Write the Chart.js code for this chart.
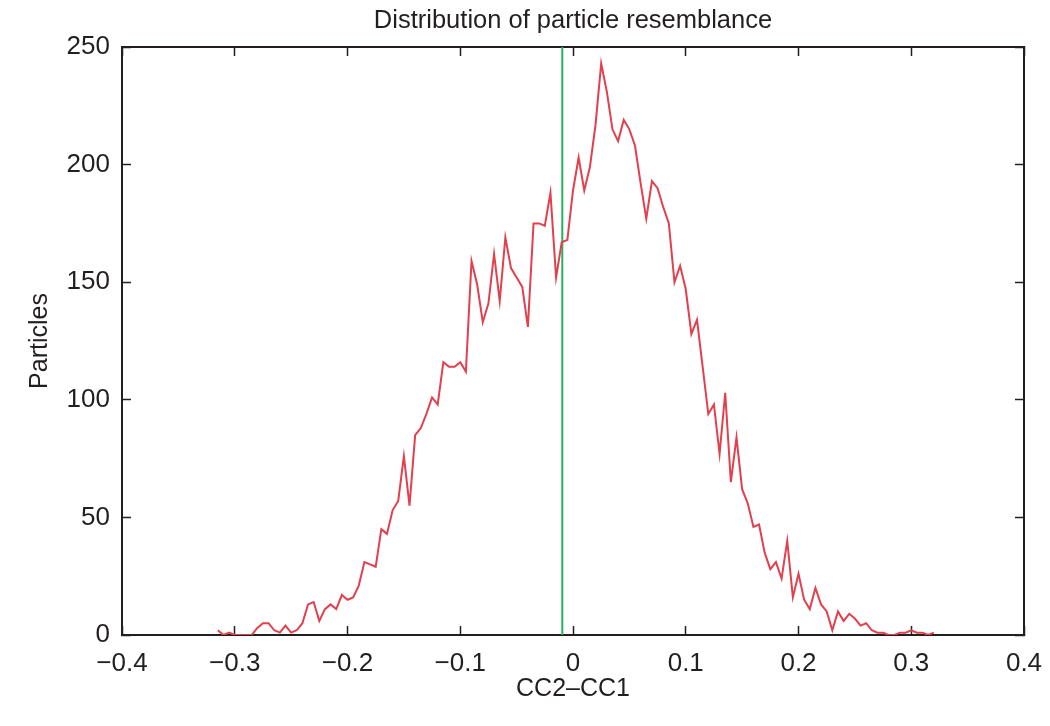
<!DOCTYPE html>
<html>
<head>
<meta charset="utf-8">
<title>Distribution of particle resemblance</title>
<script src="https://cdn.jsdelivr.net/npm/chart.js@4.4.1/dist/chart.umd.min.js"></script>
<style>
  html, body { margin: 0; padding: 0; background: #fff; }
  #chart { display: block; }
</style>
</head>
<body>
<canvas id="chart" width="1050" height="726"></canvas>
<script>
// ── Data: histogram of CC2–CC1, bins every 0.005 starting at -0.315 ──
const BIN_START = -0.315;
const BIN_WIDTH = 0.005;
const PARTICLES = [
    2, 0, 1, 0, 0, 0, 0, 3, 5, 5,
    2, 1, 4, 1, 2, 5, 13, 14, 6, 11,
    13, 11, 17, 15, 16, 21, 31, 30, 29, 45,
    43, 53, 57, 76, 55, 85, 88, 94, 101, 98,
    116, 114, 114, 116, 112, 159, 149, 133, 141, 162,
    142, 169, 156, 152, 148, 131, 175, 175, 174, 188,
    152, 167, 168, 189, 203, 189, 199, 217, 243, 231,
    215, 210, 219, 215, 208, 192, 177, 193, 190, 182,
    175, 150, 157, 147, 128, 134, 114, 94, 98, 77,
    103, 65, 84, 62, 56, 46, 47, 35, 28, 31,
    24, 40, 16, 26, 15, 11, 20, 13, 10, 2,
    10, 6, 9, 7, 4, 5, 2, 1, 1, 0,
    0, 1, 1, 2, 1, 1, 0, 1
];
const MARKER_X = -0.0095;          // green reference line
const X_TICKS  = [-0.4, -0.3, -0.2, -0.1, 0, 0.1, 0.2, 0.3, 0.4];
const Y_TICKS  = [0, 50, 100, 150, 200, 250];

const TITLE   = 'Distribution of particle resemblance';
const X_LABEL = 'CC2\u2013CC1';
const Y_LABEL = 'Particles';

// ── Style ────────────────────────────────────────────────────
const FONT      = "'Liberation Sans', Arial, Helvetica, sans-serif";
const INK       = '#231f20';
const RED       = '#e2404e';
const GREEN     = '#22b35a';
const TICK_LEN  = -9;   // negative = ticks point into the plot

Chart.defaults.font.family = FONT;
Chart.defaults.color = INK;

const points = PARTICLES.map((v, i) => ({ x: BIN_START + i * BIN_WIDTH, y: v }));
const marker = [{ x: MARKER_X, y: Y_TICKS[0] }, { x: MARKER_X, y: Y_TICKS[Y_TICKS.length - 1] }];

function fmtX(v) {
    if (Math.abs(v) < 1e-9) return '0';
    return v.toFixed(1).replace('-', '\u2212');
}

function setTicks(list) {
    return scale => { scale.ticks = list.map(v => ({ value: v })); };
}

// pin an axis box to a fixed thickness and drop label overflow padding
function pin(size) {
    return s => {
        if (s.isHorizontal()) s.height = size; else s.width = size;
        s.paddingLeft = s.paddingRight = s.paddingTop = s.paddingBottom = 0;
    };
}

// mirror axis (top / right) – ticks only, no labels
function mirrorAxis(position, min, max, list) {
    return {
        type: 'linear',
        position,
        min, max,
        afterBuildTicks: setTicks(list),
        afterFit: pin(0),
        ticks: { display: false },
        grid: { drawOnChartArea: false, tickLength: TICK_LEN, tickWidth: 1.5, tickColor: INK },
        border: { color: INK, width: 2 }
    };
}

// Title centred over the plot area
const plotTitle = {
    id: 'plotTitle',
    afterDraw(chart) {
        const { ctx, chartArea } = chart;
        ctx.save();
        ctx.font = '25.5px ' + FONT;
        ctx.fillStyle = INK;
        ctx.textAlign = 'center';
        ctx.textBaseline = 'middle';
        ctx.fillText(TITLE, (chartArea.left + chartArea.right) / 2, 21);
        ctx.restore();
    }
};

new Chart(document.getElementById('chart'), {
    type: 'line',
    data: {
        datasets: [
            {
                data: points,
                borderColor: RED,
                borderWidth: 2,
                pointRadius: 0,
                tension: 0,
                fill: false
            },
            {
                data: marker,
                borderColor: GREEN,
                borderWidth: 2,
                pointRadius: 0,
                fill: false
            }
        ]
    },
    options: {
        responsive: false,
        animation: false,
        layout: { padding: { top: 47, right: 26, bottom: 0, left: 0 } },
        plugins: {
            legend: { display: false },
            tooltip: { enabled: false },
            title: { display: false }
        },
        scales: {
            x: {
                type: 'linear',
                min: -0.4, max: 0.4,
                afterBuildTicks: setTicks(X_TICKS),
                afterFit: pin(91),
                ticks: { callback: fmtX, padding: 22, font: { size: 26 }, color: INK, maxRotation: 0 },
                grid: { drawOnChartArea: false, tickLength: TICK_LEN, tickWidth: 1.5, tickColor: INK },
                border: { color: INK, width: 2 },
                title: { display: true, text: X_LABEL, font: { size: 25 }, color: INK, padding: { bottom: 22 } }
            },
            y: {
                type: 'linear',
                min: 0, max: 250,
                afterBuildTicks: setTicks(Y_TICKS),
                afterFit: pin(122),
                ticks: { padding: 21, font: { size: 26 }, color: INK },
                grid: { drawOnChartArea: false, tickLength: TICK_LEN, tickWidth: 1.5, tickColor: INK },
                border: { color: INK, width: 2 },
                title: { display: true, text: Y_LABEL, font: { size: 25 }, color: INK, padding: { top: 25 } }
            },
            x2: mirrorAxis('top', -0.4, 0.4, X_TICKS),
            y2: mirrorAxis('right', 0, 250, Y_TICKS)
        }
    },
    plugins: [plotTitle]
});
</script>
</body>
</html>
